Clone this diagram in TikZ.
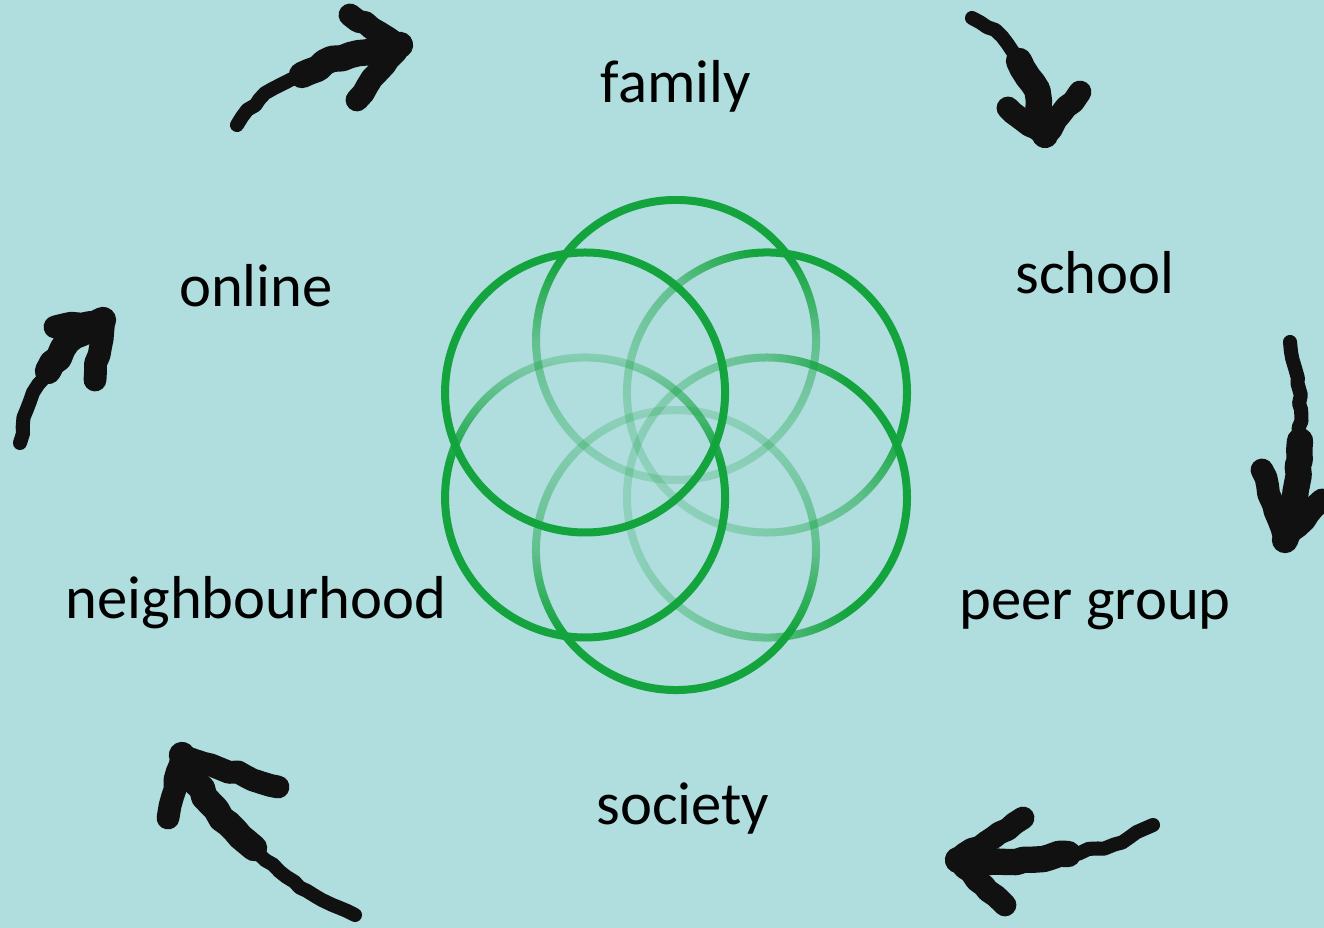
\documentclass[tikz,border=0pt]{standalone}
\usepackage{fontspec}
\setmainfont{Carlito}
\usetikzlibrary{calc,fadings,decorations.pathmorphing}
\definecolor{sea}{HTML}{B0DDDE}
\definecolor{leaf}{HTML}{13A43D}
\definecolor{ink}{HTML}{111111}
\pgfdeclareverticalshading{ringshade}{100bp}{color(0bp)=(pgftransparent!80);
  color(50bp)=(pgftransparent!50); color(78bp)=(pgftransparent!0);
  color(100bp)=(pgftransparent!0)}
\pgfdeclarefading{ringfade}{\pgfuseshading{ringshade}}
\pgfdeclareverticalshading{ringshadeb}{100bp}{color(0bp)=(pgftransparent!0);
  color(62bp)=(pgftransparent!0); color(100bp)=(pgftransparent!75)}
\pgfdeclarefading{ringfadeb}{\pgfuseshading{ringshadeb}}
\newcommand\brusharrow[7]{%
  \draw[brush, line width=8pt] #1 .. controls #2 .. #3;
  \draw[brush, line width=15pt] #3 .. controls #4 .. #5;
  \draw[brush, line width=13pt] #6 -- #5 -- #7;
}
\begin{document}
\begin{tikzpicture}[
    x=0.2mm, y=0.2mm,
    ring/.style={draw=leaf, line width=1.6mm},
    lbl/.style={anchor=base, font=\fontsize{34.5}{40}\selectfont},
    brush/.style={draw=ink, line cap=round, line join=round,
      decorate, decoration={random steps, segment length=5pt, amplitude=1pt}}
  ]
    \fill[sea] (0,0) rectangle (1324,928);
    \clip (0,0) rectangle (1324,928);
    \coordinate (mid) at (676,483);
    \foreach \a/\f in {90/0, 30/-50, -30/-90, -90/180}
      \draw[ring, path fading=ringfade, fit fading=false,
        fading transform={shift={($(mid)+(\a:105)$)}, rotate=\f, scale=1.64}]
        ($(mid)+(\a:105)$) circle (140);
    \draw[ring, path fading=ringfadeb, fit fading=false,
      fading transform={shift={($(mid)+(210:105)$)}, scale=1.64}]
      ($(mid)+(210:105)$) circle (140);
    \draw[ring] ($(mid)+(150:105)$) circle (140);
    \node[lbl] (family) at (676,825) {family};
    \node[lbl] (school) at (1095,634) {school};
    \node[lbl] (peer) at (1095,308) {peer group};
    \node[lbl] (society) at (683,103) {society};
    \node[lbl] (hood) at (256,309) {neighbourhood};
    \node[lbl] (online) at (256,621) {online};
    \brusharrow{(237,803)}{(261,833)}{(302,853)}{(342,873)}{(400,883)}{(350,913)}{(357,828)}
    \brusharrow{(972,910)}{(1001,896)}{(1019,867)}{(1037,838)}{(1045,793)}{(1008,820)}{(1080,836)}
    \brusharrow{(20,485)}{(27,526)}{(48,557)}{(69,588)}{(103,608)}{(55,601)}{(95,548)}
    \brusharrow{(1290,586)}{(1301,537)}{(1300,487)}{(1298,438)}{(1285,388)}{(1262,458)}{(1322,428)}
    \brusharrow{(355,13)}{(297,40)}{(254,80)}{(211,120)}{(182,173)}{(278,141)}{(168,110)}
    \brusharrow{(1153,103)}{(1116,83)}{(1068,74)}{(1019,66)}{(958,68)}{(1023,110)}{(1005,23)}
  \end{tikzpicture}
\end{document}
